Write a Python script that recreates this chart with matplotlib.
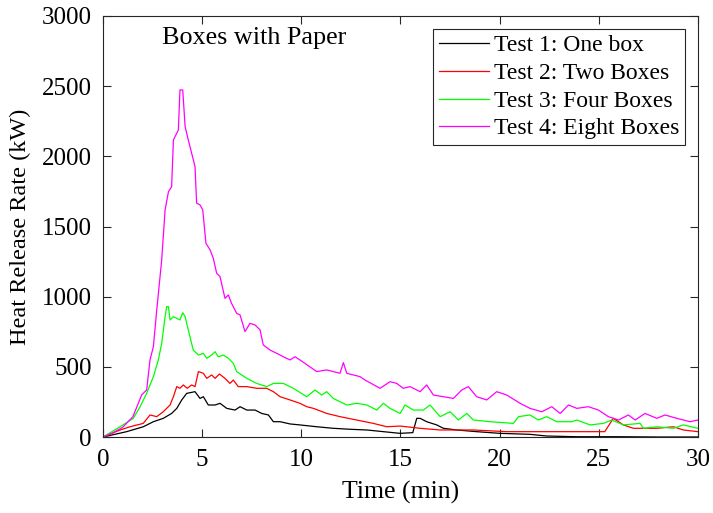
import matplotlib
matplotlib.use("Agg")
import matplotlib.pyplot as plt

plt.rcParams['font.family'] = ['Liberation Serif', 'DejaVu Serif']
plt.rcParams['mathtext.fontset'] = 'stix'

# Test 1: one box
t1 = [0, 1.19, 2.03, 2.54, 3.04, 3.46, 3.72, 3.97, 4.22, 4.64, 4.89, 5.06, 5.31, 5.65, 5.9,
      6.24, 6.66, 6.91, 7.25, 7.67, 8.0, 8.34, 8.59, 8.93, 9.43, 9.93, 10.78, 11.61, 12.46,
      13.3, 14.14, 14.98, 15.62, 15.82, 15.99, 16.32, 16.83, 17.16, 17.84, 18.84, 20.02,
      21.53, 22.37, 23.89, 26.0, 28.0, 30]
q1 = [0, 38, 73, 109, 133, 168, 204, 264, 311, 323, 275, 287, 228, 228, 240, 204, 192, 216,
      192, 192, 168, 157, 109, 109, 93, 86, 73, 62, 55, 50, 38, 26, 31, 133, 133, 109, 86,
      62, 50, 38, 26, 19, 7, 2, 2, 0, 0]

# Test 2: two boxes
t2 = [0, 0.86, 1.36, 2.03, 2.37, 2.71, 3.04, 3.38, 3.55, 3.72, 3.88, 4.05, 4.25, 4.47, 4.64,
      4.81, 5.06, 5.23, 5.48, 5.65, 5.87, 6.15, 6.4, 6.57, 6.82, 7.25, 7.75, 8.25, 8.59, 8.93,
      9.43, 9.93, 10.27, 10.61, 11.28, 11.95, 12.79, 13.63, 14.31, 14.98, 15.99, 17.0, 18.67,
      20.36, 22.04, 24.56, 25.3, 25.73, 26.24, 26.74, 27.25, 27.92, 28.76, 29.26, 30]
q2 = [0, 50, 73, 97, 157, 145, 180, 228, 287, 359, 347, 371, 347, 371, 359, 466, 454, 418,
      442, 418, 449, 418, 382, 406, 359, 359, 347, 347, 323, 287, 264, 240, 216, 204, 168,
      145, 121, 97, 73, 78, 62, 50, 50, 38, 38, 38, 38, 133, 86, 62, 62, 62, 73, 50, 38]

# Test 3: four boxes
t3 = [0, 0.86, 1.53, 1.87, 2.2, 2.54, 2.79, 2.96, 3.13, 3.21, 3.3, 3.38, 3.55, 3.72, 3.88,
      4.02, 4.14, 4.3, 4.55, 4.81, 5.06, 5.23, 5.48, 5.65, 5.81, 6.07, 6.32, 6.57, 6.74, 7.25,
      7.75, 8.25, 8.59, 9.09, 9.6, 10.27, 10.69, 11.03, 11.28, 11.61, 12.29, 12.79, 13.3,
      13.8, 14.14, 14.47, 14.98, 15.23, 15.65, 16.15, 16.49, 17.0, 17.5, 17.92, 18.34, 18.67,
      19.52, 20.69, 20.95, 21.53, 21.95, 22.37, 22.88, 23.64, 23.89, 24.56, 25.23, 25.65,
      26.24, 27.08, 27.25, 27.92, 28.76, 29.26, 30]
q3 = [0, 73, 133, 216, 311, 430, 549, 668, 857, 929, 929, 834, 857, 846, 834, 886, 857, 763,
      620, 584, 596, 561, 584, 608, 572, 584, 561, 525, 466, 418, 382, 359, 382, 382, 347,
      287, 335, 299, 323, 275, 228, 240, 228, 192, 240, 204, 168, 228, 192, 192, 228, 145,
      180, 121, 168, 121, 109, 97, 145, 157, 121, 145, 109, 109, 121, 86, 97, 121, 86, 97,
      62, 73, 62, 86, 62]

# Test 4: eight boxes
t4 = [0, 0.5, 1.0, 1.51, 1.95, 2.2, 2.37, 2.54, 2.71, 2.96, 3.13, 3.3, 3.46, 3.55, 3.8, 3.88,
      4.02, 4.14, 4.3, 4.47, 4.64, 4.72, 4.89, 5.03, 5.19, 5.4, 5.56, 5.73, 5.9, 6.15, 6.32,
      6.48, 6.74, 6.91, 7.16, 7.41, 7.67, 7.92, 8.08, 8.42, 8.76, 9.09, 9.43, 9.68, 9.93,
      10.78, 11.28, 11.95, 12.12, 12.29, 12.96, 13.21, 13.97, 14.47, 14.81, 15.14, 15.48,
      15.99, 16.32, 16.66, 17.16, 17.67, 18.09, 18.42, 18.84, 19.35, 19.85, 20.36, 21.03,
      21.53, 22.12, 22.63, 23.05, 23.47, 23.89, 24.47, 24.98, 25.48, 25.99, 26.49, 26.83,
      27.33, 27.92, 28.34, 28.93, 29.6, 30]
q4 = [0, 30, 70, 145, 300, 335, 549, 644, 905, 1262, 1618, 1748, 1784, 2117, 2188, 2473, 2473,
      2212, 2117, 2022, 1927, 1666, 1654, 1618, 1380, 1333, 1274, 1167, 1143, 988, 1012, 953,
      881, 870, 751, 810, 798, 763, 656, 620, 596, 572, 549, 572, 549, 466, 478, 454, 530,
      454, 430, 406, 347, 394, 382, 347, 359, 323, 371, 299, 287, 275, 335, 359, 287, 264,
      323, 299, 240, 204, 180, 216, 168, 228, 204, 216, 192, 145, 121, 157, 121, 168, 133,
      157, 133, 109, 121]

labels = ["Test 1: One box", "Test 2: Two Boxes", "Test 3: Four Boxes", "Test 4: Eight Boxes"]
colors = ["#000000", "#ff0000", "#00ff00", "#ff00ff"]
x_ticks = [0, 5, 10, 15, 20, 25, 30]
y_ticks = [0, 500, 1000, 1500, 2000, 2500, 3000]

fig = plt.figure(figsize=(7.13, 5.13), dpi=100)
ax = fig.add_axes([103 / 713, 1 - 437 / 513, 595 / 713, 421 / 513])

for t, q, lab, c in zip([t1, t2, t3, t4], [q1, q2, q3, q4], labels, colors):
    ax.plot(t, q, color=c, lw=0.9, label=lab)

ax.set_xlim(0, 30)
ax.set_ylim(0, 3000)
ax.set_xticks(x_ticks)
ax.set_yticks(y_ticks)

axis_col = "#262626"
for s in ax.spines.values():
    s.set_color(axis_col)
    s.set_linewidth(0.8)
ax.tick_params(direction='in', length=6, width=0.8, colors=axis_col, labelcolor='black',
               top=True, right=True, labelsize=18)
ax.tick_params(axis='x', pad=9)
ax.tick_params(axis='y', pad=8)

ax.set_xlabel("Time (min)", fontsize=18.5, labelpad=7)
ax.set_ylabel("Heat Release Rate (kW)", fontsize=17.5, labelpad=8)

ax.text(3.0, 2845, "Boxes with Paper", fontsize=18.8, va='center', ha='left')

leg = ax.legend(loc='upper right', bbox_to_anchor=(0.978, 0.969), borderaxespad=0,
                fontsize=17, frameon=True, fancybox=False, framealpha=1,
                edgecolor=axis_col, handlelength=2.1, handletextpad=0.2,
                labelspacing=0.26, borderpad=0.25)
leg.get_frame().set_linewidth(0.8)

fig.savefig("out.png", dpi=100)
